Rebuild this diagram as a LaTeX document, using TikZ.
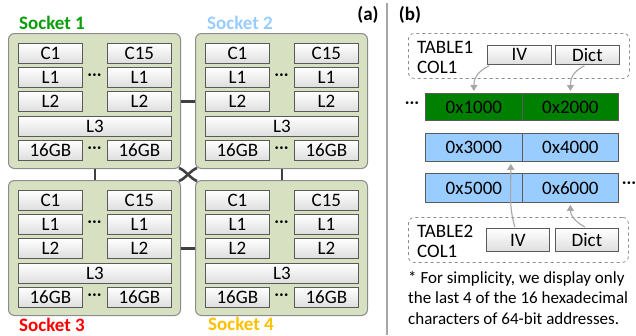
\documentclass[tikz,border=0pt]{standalone}
\usepackage{fontspec}
\setmainfont{Carlito}
\usetikzlibrary{arrows.meta}
\definecolor{sockfill}{HTML}{D8E0C2}
\definecolor{sockline}{HTML}{8C8C8C}
\definecolor{cellline}{HTML}{5A5A5A}
\definecolor{linkc}{HTML}{404040}
\definecolor{sgreen}{HTML}{0A9E0A}
\definecolor{sblue}{HTML}{99CCFF}
\definecolor{sred}{HTML}{FF0000}
\definecolor{sorange}{HTML}{FFC000}
\definecolor{bargreen}{HTML}{008000}
\definecolor{barblue}{HTML}{99CCFF}
\definecolor{arrc}{HTML}{A6A6A6}
\tikzset{
  sockbox/.style={draw=sockline, fill=sockfill, line width=1pt, rounded corners=6pt,
    minimum width=172pt, minimum height=135pt, anchor=north west, inner sep=0pt},
  cell/.style={draw=cellline, line width=0.8pt, top color=white, bottom color=black!13,
    minimum width=64pt, minimum height=20pt, inner sep=0pt, anchor=north west,
    font=\fontsize{19}{20}\selectfont},
  dotsn/.style={inner sep=0pt, font=\fontsize{19}{20}\selectfont},
  link/.style={draw=linkc, line width=2.6pt},
  slabel/.style={font=\fontsize{19}{20}\selectfont\bfseries},
  bar/.style={draw=cellline, line width=0.8pt, inner sep=0pt, anchor=north west,
    font=\fontsize{19}{20}\selectfont},
  gbar/.style={bar, fill=bargreen},
  bbar/.style={bar, fill=barblue},
  dbox/.style={draw=black!45, dashed, line width=0.8pt, rounded corners=6pt,
    anchor=north west, inner sep=0pt},
  arr/.style={draw=arrc, line width=1.1pt, -{Triangle[width=7pt,length=6pt]}},
  socketpic/.pic={
    \node[sockbox] (-box) at (0,0) {};
    \node[cell] (-c1) at (10,10) {C1};
    \node[cell] (-c15) at (99,10) {C15};
    \node[cell] (-l1a) at (10,34) {L1};
    \node[cell] (-l1b) at (99,34) {L1};
    \node[cell] (-l2a) at (10,58) {L2};
    \node[cell] (-l2b) at (99,58) {L2};
    \node[cell, minimum width=153pt] (-l3) at (10,83) {L3};
    \node[cell] (-m1) at (10,107) {16GB};
    \node[cell] (-m2) at (99,107) {16GB};
    \node[dotsn] (-da) at (86.5,44) {···};
    \node[dotsn] (-db) at (86.5,117) {···};
  }
}
\begin{document}
\begin{tikzpicture}[x=1pt,y=-1pt]
\useasboundingbox (0,0) rectangle (636,335);

% ---------- (a) ----------
\pic (s1) at (8,33) {socketpic};
\pic (s2) at (195,33) {socketpic};
\pic (s3) at (8,180) {socketpic};
\pic (s4) at (195,180) {socketpic};

\node[slabel, text=sgreen] (lab1) at (52,23) {Socket 1};
\node[slabel, text=sblue] (lab2) at (240,23) {Socket 2};
\node[slabel, text=sred] (lab3) at (52,325) {Socket 3};
\node[slabel, text=sorange] (lab4) at (241,324) {Socket 4};
\node[slabel] (la) at (368,15) {(a)};

% interconnects
\draw[link] (s1-l2b.center -| s1-box.east) -- (s1-l2b.center -| s2-box.west);
\draw[link] (s3-l2b.center -| s3-box.east) -- (s3-l2b.center -| s4-box.west);
\draw[link] (s1-l3.center |- s1-box.south) -- (s1-l3.center |- s3-box.north);
\draw[link] (s2-l3.center |- s2-box.south) -- (s2-l3.center |- s4-box.north);
\draw[link] ([xshift=-2pt,yshift=1pt]s1-box.south east) .. controls +(6,2) and +(-6,-2) .. ([xshift=2pt,yshift=-1pt]s4-box.north west);
\draw[link] ([xshift=2pt,yshift=1pt]s2-box.south west) .. controls +(-6,2) and +(6,-2) .. ([xshift=-2pt,yshift=-1pt]s3-box.north east);

% divider
\draw[draw=arrc, line width=1.5pt] (387,3) -- (387,335);

% ---------- (b) ----------
\node[slabel] (lb) at (410,15) {(b)};

\node[dbox, minimum width=221pt, minimum height=45pt] (t1) at (408,33) {};
\node[anchor=west, align=left, inner sep=0pt, font=\fontsize{19}{20}\selectfont] (t1txt) at (417,57) {TABLE1\\COL1};
\node[cell, minimum height=19pt] (iv1) at (487,45) {IV};
\node[cell, minimum height=19pt] (dc1) at (555,45) {Dict};

\node[gbar, minimum width=97pt, minimum height=27pt] (g1) at (425,93) {0x1000};
\node[gbar, minimum width=96pt, minimum height=27pt] (g2) at (522,93) {0x2000};
\node[bbar, minimum width=97pt, minimum height=28pt] (b1) at (425,133) {0x3000};
\node[bbar, minimum width=96pt, minimum height=28pt] (b2) at (522,133) {0x4000};
\node[bbar, minimum width=97pt, minimum height=29pt] (c1) at (425,173) {0x5000};
\node[bbar, minimum width=96pt, minimum height=29pt] (c2) at (522,173) {0x6000};
\node[dotsn] (dl) at (412,105) {···};
\node[dotsn] (dr) at (629,185) {···};

\node[dbox, minimum width=220pt, minimum height=45pt] (t2) at (408,217) {};
\node[anchor=west, align=left, inner sep=0pt, font=\fontsize{19}{20}\selectfont] (t2txt) at (417,241) {TABLE2\\COL1};
\node[cell, minimum width=63pt, minimum height=23pt] (iv2) at (486,228) {IV};
\node[cell, minimum width=63pt, minimum height=23pt] (dc2) at (555,228) {Dict};

\draw[arr] ([xshift=2pt,yshift=-1pt]iv1.south west) .. controls +(-10,5) and +(0,-14) .. ([yshift=2pt]g1.north);
\draw[arr] ([xshift=-3pt,yshift=-1pt]dc1.south) .. controls +(-10,5) and +(0,-14) .. ([yshift=2pt]g2.north);
\draw[arr] ([xshift=-3pt,yshift=1pt]iv2.north) .. controls +(-6,-20) and +(0,30) .. ([xshift=-12pt,yshift=-2pt]b1.south east);
\draw[arr] ([xshift=-2pt,yshift=1pt]dc2.north) .. controls +(-10,-5) and +(0,10) .. ([yshift=-2pt]c2.south);

\node[anchor=north west, align=left, inner sep=0pt, font=\fontsize{17}{20.5}\selectfont] (note) at (408,271)
  {* For simplicity, we display only\\the last 4 of the 16 hexadecimal\\characters of 64-bit addresses.};
\end{tikzpicture}
\end{document}
